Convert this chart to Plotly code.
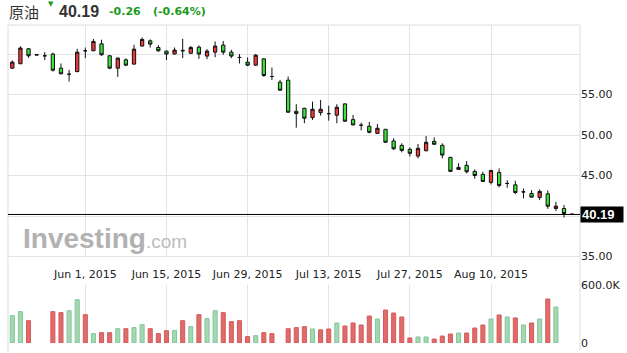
import plotly.graph_objects as go

# ---------------- data ----------------
may = [19, 20, 21, 22, 25, 26, 27, 28, 29]
jun = [1, 2, 3, 4, 5, 8, 9, 10, 11, 12, 15, 16, 17, 18, 19, 22, 23, 24, 25, 26, 29, 30]
jul = [1, 2, 3, 6, 7, 8, 9, 10, 13, 14, 15, 16, 17, 20, 21, 22, 23, 24, 27, 28, 29, 30, 31]
aug = [3, 4, 5, 6, 7, 10, 11, 12, 13, 14, 17, 18, 19, 20, 21, 24]
dates = ([f"2015-05-{d:02d}" for d in may] + [f"2015-06-{d:02d}" for d in jun]
         + [f"2015-07-{d:02d}" for d in jul] + [f"2015-08-{d:02d}" for d in aug])

opens = [58.25, 58.80, 60.64, 59.93, 59.78, 60.00, 58.25, 57.50, 57.83,
         60.40, 60.40, 61.26, 59.78, 58.25, 59.28, 58.75, 60.98, 61.63, 60.80,
         60.36, 60.00, 60.45, 60.10, 60.85, 59.74, 60.23, 61.10, 60.23, 59.57,
         59.00, 58.62, 59.40, 57.22, 56.52, 56.77, 52.93, 53.30, 52.15, 52.76,
         52.64, 52.44, 53.84, 51.90, 51.20, 51.08, 50.20, 50.70, 49.26, 48.72,
         48.23, 47.40, 48.06, 49.22, 48.72, 47.24, 45.75, 46.25, 45.50, 45.14,
         44.15, 45.38, 44.02, 43.85, 42.98, 42.78, 42.29, 42.74, 40.93, 40.93,
         40.25]
highs = [59.20, 60.95, 60.73, 59.95, 60.23, 60.15, 58.83, 58.04, 60.64,
         60.80, 61.85, 61.76, 59.85, 59.60, 59.45, 61.14, 62.04, 61.80, 61.10,
         60.40, 60.80, 61.88, 61.00, 61.05, 60.60, 61.55, 61.60, 60.52, 59.99,
         59.57, 60.00, 59.50, 58.33, 56.80, 57.22, 53.80, 53.35, 54.12, 54.33,
         53.63, 53.80, 53.90, 52.48, 51.52, 51.60, 51.36, 50.75, 49.60, 48.97,
         48.47, 48.89, 49.88, 49.71, 48.97, 47.30, 46.50, 46.78, 45.75, 45.46,
         45.66, 45.88, 44.43, 44.35, 43.40, 43.19, 43.27, 43.16, 41.75, 41.34,
         40.30]
lows = [58.15, 58.75, 59.53, 59.85, 59.24, 57.83, 57.50, 56.60, 57.75,
        59.49, 60.35, 59.78, 58.13, 57.18, 58.50, 58.70, 60.93, 60.80, 60.27,
        59.24, 59.95, 59.49, 59.99, 59.40, 59.36, 59.61, 59.90, 59.49, 58.83,
        58.50, 58.55, 57.18, 56.80, 55.50, 52.78, 50.90, 51.45, 51.86, 52.39,
        51.77, 51.45, 51.65, 51.20, 50.58, 50.20, 50.12, 49.05, 48.17, 47.86,
        47.35, 47.12, 47.98, 48.80, 47.12, 45.45, 45.70, 45.26, 44.60, 44.22,
        43.90, 43.53, 43.48, 42.70, 42.17, 42.30, 41.96, 40.88, 40.63, 39.81,
        40.15]
closes = [59.00, 60.73, 59.78, 59.88, 59.78, 58.00, 57.55, 57.50, 60.23,
          60.40, 61.55, 59.90, 58.25, 59.49, 58.62, 60.60, 61.80, 61.22, 60.40,
          60.00, 60.48, 60.40, 60.80, 60.00, 60.36, 60.98, 60.23, 59.74, 59.57,
          58.62, 59.86, 57.34, 57.22, 55.53, 52.81, 52.64, 52.07, 53.18, 53.18,
          52.64, 53.43, 51.70, 51.24, 51.20, 50.33, 50.83, 49.10, 48.30, 48.10,
          47.74, 48.35, 49.10, 48.85, 47.52, 45.51, 46.00, 45.46, 45.00, 44.27,
          45.63, 43.77, 44.02, 42.90, 42.98, 42.33, 43.03, 41.21, 41.21, 40.31,
          40.19]

volumes = [283e3, 324e3, 231e3, None, None, 324e3, 314e3, 334e3, 448e3,
           293e3, 97e3, 107e3, 107e3, 148e3, 148e3, 159e3, 190e3, 148e3, 97e3,
           128e3, 128e3, 231e3, 169e3, 293e3, 252e3, 334e3, 314e3, 221e3, 231e3,
           66e3, 76e3, 107e3, 97e3, None, 148e3, 159e3, 169e3, 145e3, 136e3,
           145e3, 207e3, 176e3, 207e3, 186e3, 279e3, 248e3, 341e3, 310e3, 269e3,
           52e3, 62e3, 62e3, 41e3, 72e3, 93e3, 103e3, 103e3, 155e3, 186e3,
           248e3, 290e3, 269e3, 259e3, 186e3, 207e3, 248e3, 455e3, 372e3, None,
           None]
vol_dir = ["g", "g", "r", "", "", "r", "r", "g", "g",
           "r", "g", "r", "r", "g", "r", "g", "g", "r", "r",
           "r", "g", "r", "g", "r", "g", "g", "r", "r", "r",
           "r", "g", "r", "r", "", "r", "r", "r", "g", "r",
           "r", "g", "r", "r", "r", "r", "g", "r", "r", "r",
           "r", "g", "g", "r", "r", "r", "g", "r", "r", "r",
           "g", "r", "g", "r", "g", "r", "g", "r", "g", "",
           ""]

tick_dates = ["2015-06-01", "2015-06-15", "2015-06-29", "2015-07-13", "2015-07-27", "2015-08-10"]
tick_labels = ["Jun 1, 2015", "Jun 15, 2015", "Jun 29, 2015", "Jul 13, 2015", "Jul 27, 2015", "Aug 10, 2015"]
price_ticks = [35, 40, 45, 50, 55, 60]
price_tick_labels = ["35.00", "", "45.00", "50.00", "55.00", ""]
vol_ticks = [0, 600000]
vol_tick_labels = ["0", "600.0K"]

last_price = 40.19
title_name = "原油"
change_txt = "-0.26"
change_pct_txt = "(-0.64%)"

# ---------------- layout geometry ----------------
W, H = 627, 353
ML, MR, MT, MB = 8, 47, 25, 10
PW, PH = W - ML - MR, H - MT - MB


def px_x(px):
    return (px - ML) / PW


def px_y(py):
    return (H - MB - py) / PH


GRID = "#e3e4eb"
BORDER = "#dcdde3"
FONT = "DejaVu Sans, Verdana, sans-serif"
RED_FILL = "#f03a3a"
GREEN_FILL = "#3be43b"

fig = go.Figure()

fig.add_trace(go.Candlestick(
    x=dates, open=opens, high=highs, low=lows, close=closes,
    increasing=dict(fillcolor=RED_FILL, line=dict(color="#111111", width=1)),
    decreasing=dict(fillcolor=GREEN_FILL, line=dict(color="#111111", width=1)),
    whiskerwidth=0, xaxis="x", yaxis="y", showlegend=False, hoverinfo="skip",
))

vcolors = ["#e06b6b" if d == "r" else "#a3d8b2" for d in vol_dir]
vlines = ["#d55a5a" if d == "r" else "#82c69a" for d in vol_dir]
fig.add_trace(go.Bar(
    x=dates, y=volumes, marker=dict(color=vcolors, line=dict(color=vlines, width=1)),
    width=0.5, xaxis="x2", yaxis="y2", showlegend=False, hoverinfo="skip",
))

xrange = [-0.53, 69.97]
common_x = dict(type="category", range=xrange, showgrid=True, gridcolor=GRID, gridwidth=1,
                tickvals=tick_dates, ticktext=tick_labels, rangeslider=dict(visible=False),
                zeroline=False, showline=False, ticks="", fixedrange=True, automargin=False)

fig.update_layout(
    template="none",
    width=W, height=H,
    margin=dict(l=ML, r=MR, t=MT, b=MB, autoexpand=False),
    paper_bgcolor="white", plot_bgcolor="white",
    font=dict(family=FONT, size=11, color="#222222"),
    boxgap=0.42,
    xaxis=dict(**common_x, anchor="y", showticklabels=True,
               tickfont=dict(family=FONT, size=11, color="#222222"), ticklabelstandoff=9),
    xaxis2=dict(**common_x, anchor="y2", showticklabels=False),
    yaxis=dict(domain=[px_y(256.5), 1], range=[35, 63.58], side="right",
               tickvals=price_ticks, ticktext=price_tick_labels, showgrid=True, gridcolor=GRID,
               zeroline=False, showline=False, ticks="", anchor="x", automargin=False,
               tickfont=dict(family=FONT, size=11, color="#222222")),
    yaxis2=dict(domain=[0, px_y(285)], range=[0, 600000], side="right",
                tickvals=vol_ticks, ticktext=vol_tick_labels, showgrid=True, gridcolor=GRID,
                zeroline=False, showline=False, ticks="", anchor="x2", automargin=False,
                tickfont=dict(family=FONT, size=11, color="#222222")),
)

shapes = [
    # frame lines
    dict(type="line", xref="paper", yref="paper", x0=0, x1=0, y0=px_y(353), y1=1,
         line=dict(color=BORDER, width=1)),
    dict(type="line", xref="paper", yref="paper", x0=1, x1=1, y0=px_y(350), y1=1,
         line=dict(color=BORDER, width=1)),
    dict(type="line", xref="paper", yref="paper", x0=0, x1=1, y0=1, y1=1,
         line=dict(color=BORDER, width=1)),
    dict(type="line", xref="paper", yref="paper", x0=0, x1=1, y0=px_y(256.5), y1=px_y(256.5),
         line=dict(color=GRID, width=1)),
    # last price line
    dict(type="line", xref="paper", yref="y", x0=0, x1=1, y0=last_price, y1=last_price,
         line=dict(color="#000000", width=1)),
]
fig.update_layout(shapes=shapes)

annotations = [
    # last price tag
    dict(xref="paper", yref="y", x=1, y=last_price, xanchor="left", yanchor="middle",
         text=f"<b>{last_price:.2f}</b>", showarrow=False, bgcolor="#000000",
         font=dict(family="Liberation Sans, Arial", size=13, color="white"),
         width=40, height=13, align="left", borderpad=1, xshift=0),
    # watermark
    dict(xref="paper", yref="paper", x=px_x(21), y=px_y(238), xanchor="left", yanchor="middle",
         text="<b>Investing</b><span style='font-size:19px;color:#bdbdbd'>.com</span>",
         showarrow=False, font=dict(family="Liberation Sans, Arial", size=28, color="#b2b2b2")),
    # header
    dict(xref="paper", yref="paper", x=px_x(7), y=px_y(11), xanchor="left", yanchor="middle",
         text=title_name, showarrow=False,
         font=dict(family="Noto Sans CJK SC", size=15, color="#333333")),
    dict(xref="paper", yref="paper", x=px_x(46), y=px_y(4), xanchor="left", yanchor="middle",
         text="▼", showarrow=False, font=dict(family=FONT, size=7, color="#1a9a1a")),
    dict(xref="paper", yref="paper", x=px_x(57), y=px_y(11), xanchor="left", yanchor="middle",
         text=f"<b>{last_price:.2f}</b>", showarrow=False,
         font=dict(family="Liberation Sans, Arial", size=16, color="#333333")),
    dict(xref="paper", yref="paper", x=px_x(107), y=px_y(12), xanchor="left", yanchor="middle",
         text=f"<b>{change_txt}</b>", showarrow=False,
         font=dict(family=FONT, size=11, color="#1a9a1a")),
    dict(xref="paper", yref="paper", x=px_x(151), y=px_y(12), xanchor="left", yanchor="middle",
         text=f"<b>{change_pct_txt}</b>", showarrow=False,
         font=dict(family=FONT, size=11, color="#1a9a1a")),
]
fig.update_layout(annotations=annotations)

fig.write_html("out.html")
